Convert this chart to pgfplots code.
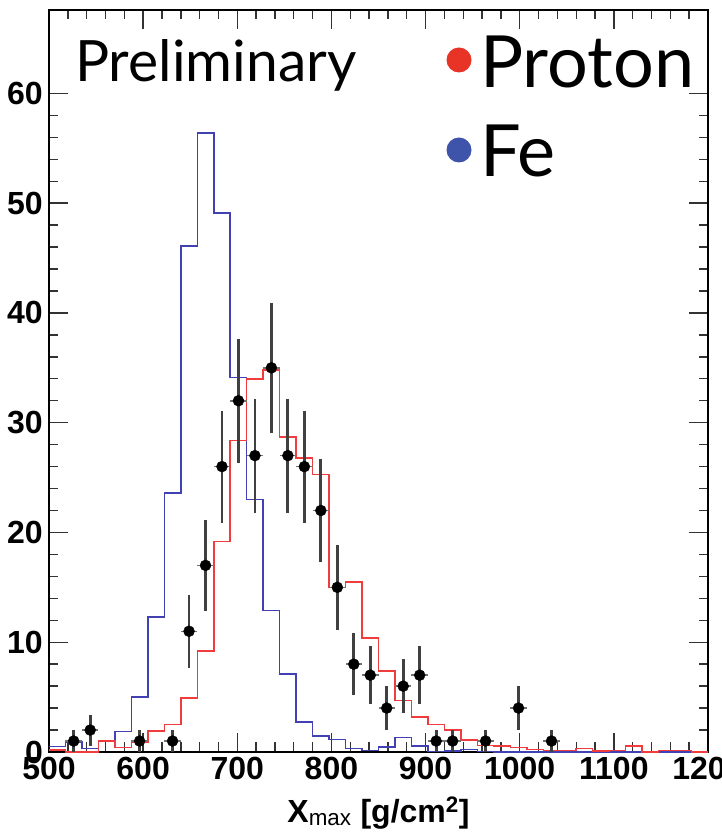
\documentclass[border=0pt]{standalone}
\usepackage{pgfplots}
\pgfplotsset{compat=1.18}
\usepackage{pgfplotstable}
\usepackage{fontspec}
\setsansfont{Liberation Sans}
\newfontfamily\labelfont{Lato}

\definecolor{protonred}{RGB}{240,60,60}
\definecolor{ironblue}{RGB}{65,65,180}
\definecolor{dotred}{RGB}{232,52,38}
\definecolor{dotblue}{RGB}{62,84,170}

% Simulated Xmax distributions: left bin edge, entries (bin width 17.5 g/cm2)
\pgfplotstableread{
x      y
500    0.2
517.5  0
535    0
552.5  1.0
570    0.4
587.5  0.9
605    1.9
622.5  2.5
640    4.9
657.5  9.2
675    19.2
692.5  28.4
710    34.0
727.5  34.8
745    28.7
762.5  26.8
780    25.3
797.5  15.0
815    15.5
832.5  10.4
850    7.4
867.5  4.7
885    3.2
902.5  2.5
920    2.0
937.5  1.1
955    0.6
972.5  0.55
990    0.4
1007.5 0.25
1025   0.15
1042.5 0.15
1060   0.3
1077.5 0.1
1095   0.15
1112.5 0.55
1130   0
1147.5 0.15
1165   0.15
1182.5 0
1200   0
}\proton

\pgfplotstableread{
x      y
500    0.5
517.5  0.9
535    0.3
552.5  1.0
570    1.85
587.5  5.0
605    12.3
622.5  23.6
640    46.1
657.5  56.4
675    49.1
692.5  34.1
710    23.0
727.5  12.9
745    7.1
762.5  2.75
780    1.45
797.5  1.15
815    0.3
832.5  0.15
850    0.45
867.5  1.3
885    0.55
902.5  0.05
920    0.1
937.5  0.25
955    0.05
972.5  0
990    0
1007.5 0
1025   0
1042.5 0
1060   0
1077.5 0
1095   0
1112.5 0
1130   0
1147.5 0
1165   0
1182.5 0.05
1200   0.05
}\iron

% Observed events: bin centre, count, Poisson error, half bin width
\pgfplotstableread{
x       y   ey     ex
526.25  1   1      8.75
543.75  2   1.414  8.75
596.25  1   1      8.75
631.25  1   1      8.75
648.75  11  3.317  8.75
666.25  17  4.123  8.75
683.75  26  5.099  8.75
701.25  32  5.657  8.75
718.75  27  5.196  8.75
736.25  35  5.916  8.75
753.75  27  5.196  8.75
771.25  26  5.099  8.75
788.75  22  4.690  8.75
806.25  15  3.873  8.75
823.75  8   2.828  8.75
841.25  7   2.646  8.75
858.75  4   2      8.75
876.25  6   2.449  8.75
893.75  7   2.646  8.75
911.25  1   1      8.75
928.75  1   1      8.75
963.75  1   1      8.75
998.75  4   2      8.75
1033.75 1   1      8.75
}\events

\begin{document}
\begin{tikzpicture}
\begin{axis}[
  at={(0pt,0pt)}, anchor=south west,
  scale only axis, width=659pt, height=742pt,
  xmin=500, xmax=1200, ymin=0, ymax=67.6,
  xtick distance=100, minor x tick num=4,
  ytick={0,10,...,60}, minor y tick num=4,
  tick align=inside, xtick pos=both, ytick pos=both,
  major tick length=19pt, minor tick length=9.5pt,
  every tick/.style={black!80, line width=1.4pt},
  axis line style={black, line width=1.6pt},
  tick label style={font=\fontsize{32}{32}\selectfont\sffamily\bfseries, inner sep=0pt},
  /pgf/number format/assume math mode=true,
  /pgf/number format/1000 sep={},
  xticklabel shift=5pt, yticklabel shift=6pt,
  xlabel={X\textsubscript{\mdseries max} [g/cm\textsuperscript{2}]},
  xlabel style={font=\fontsize{32}{32}\selectfont\sffamily\bfseries,
    at={(axis description cs:0.5,0)}, anchor=base, yshift=-70pt, inner sep=0pt},
  clip=true,
]
\addplot[ironblue, line width=1.5pt, const plot mark left] table[x=x, y=y] {\iron};
\addplot[protonred, line width=1.5pt, const plot mark left] table[x=x, y=y] {\proton};
\addplot[only marks, mark=none, black!55,
  error bars/.cd, x dir=both, x explicit, error mark=none,
  error bar style={black!55, line width=1.5pt}]
  table[x=x, y=y, x error=ex] {\events};
\addplot[only marks, mark=none, black!75,
  error bars/.cd, y dir=both, y explicit, error mark=none,
  error bar style={black!75, line width=2.8pt}]
  table[x=x, y=y, y error=ey] {\events};
\addplot[only marks, mark=*, mark size=5.5pt, black] table[x=x, y=y] {\events};
\end{axis}

\node[anchor=base west, inner sep=0pt, font=\labelfont\fontsize{57}{57}\selectfont] at (26pt,670pt) {Preliminary};
\fill[dotred] (410pt,692pt) circle (12.5pt);
\node[anchor=base west, inner sep=0pt, font=\labelfont\fontsize{72}{72}\selectfont] at (431pt,664pt) {Proton};
\fill[dotblue] (410pt,602pt) circle (12.5pt);
\node[anchor=base west, inner sep=0pt, font=\labelfont\fontsize{72}{72}\selectfont] at (431pt,575pt) {Fe};

\pgfresetboundingbox
\useasboundingbox (-49pt,-84pt) rectangle (673pt,752pt);
\end{tikzpicture}
\end{document}
